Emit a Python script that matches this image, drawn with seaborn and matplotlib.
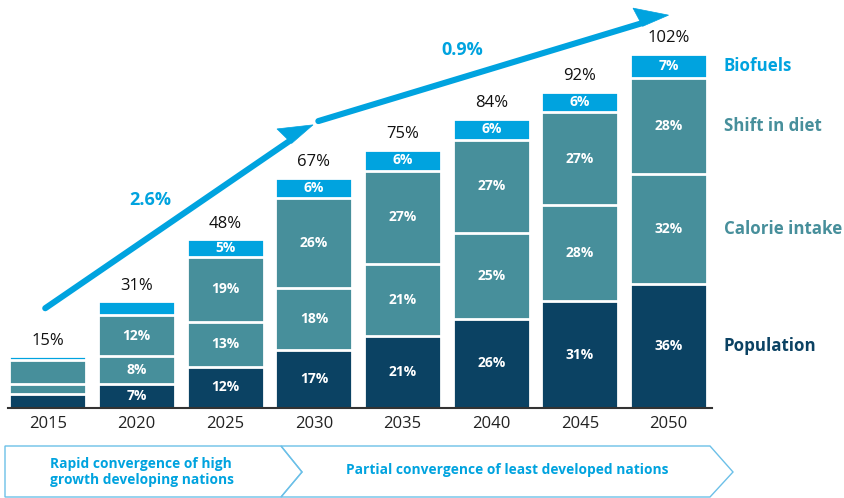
import matplotlib.pyplot as plt
import seaborn as sns
import numpy as np
import pandas as pd
from matplotlib.patches import Polygon

# data (% growth vs 2015 by driver)
years = ['2015', '2020', '2025', '2030', '2035', '2040', '2045', '2050']
population = [4, 7, 12, 17, 21, 26, 31, 36]
calorie_intake = [3, 8, 13, 18, 21, 25, 28, 32]
shift_in_diet = [7, 12, 19, 26, 27, 27, 27, 28]
biofuels = [1, 4, 5, 6, 6, 6, 6, 7]
totals = [15, 31, 48, 67, 75, 84, 92, 102]

series_names = ['Population', 'Calorie intake', 'Shift in diet', 'Biofuels']
series_vals = [population, calorie_intake, shift_in_diet, biofuels]
series_cols = ['#0b4263', '#478f9b', '#478f9b', '#00a3df']
label_cols = ['#0b4263', '#478f9b', '#478f9b', '#00a3df']

phase_labels = ['Rapid convergence of high\ngrowth developing nations',
                'Partial convergence of least developed nations']
rate_labels = ['2.6%', '0.9%']

sns.set_style('white')
plt.rcParams['font.family'] = ['Open Sans', 'DejaVu Sans']

BLUE = '#00a3df'

fig = plt.figure(figsize=(8.44, 4.98), dpi=100)
ax = fig.add_axes([8 / 844, 1 - 408 / 498, 704 / 844, 408 / 498])
ax.set_facecolor('none')

df = pd.DataFrame({'year': years})
cum = np.zeros(len(years))
cums = []
for vals in series_vals:
    cum = cum + np.array(vals)
    cums.append(cum.copy())

# stacked bars: draw cumulative totals tallest first, then overlay
for k in range(len(series_vals) - 1, -1, -1):
    df['h'] = cums[k]
    sns.barplot(data=df, x='year', y='h', color=series_cols[k], saturation=1,
                width=0.87, edgecolor='white', linewidth=2, errorbar=None, ax=ax)

# segment labels
for k, vals in enumerate(series_vals):
    base = cums[k] - np.array(vals)
    for i, v in enumerate(vals):
        if i == 0 or v < 5:
            continue
        ax.text(i, base[i] + v / 2, f'{v}%', ha='center', va='center',
                color='white', fontsize=10, fontweight='bold')

# totals on top
for i, t in enumerate(totals):
    ax.text(i, cums[-1][i] + 2.2, f'{t}%', ha='center', va='bottom',
            fontsize=12, color='#111111')

# series names next to the last bar
last = len(years) - 1
for k, name in enumerate(series_names):
    v = series_vals[k][last]
    ax.text(7.62, cums[k][last] - v / 2, name, ha='left', va='center',
            fontsize=12.2, fontweight='bold', color=label_cols[k], clip_on=False)

ax.set_xlim(-0.45, 7.49)
ax.set_ylim(0, 118.6)
ax.set_xlabel('')
ax.set_ylabel('')
ax.set_yticks([])
ax.tick_params(axis='x', length=0, pad=6, labelsize=12, labelcolor='#222222')
for s in ['top', 'right', 'left']:
    ax.spines[s].set_visible(False)
ax.spines['bottom'].set_color('#333333')
ax.spines['bottom'].set_linewidth(1.5)

ax.text(1.15, 60.5, rate_labels[0], ha='center', va='center', fontsize=13,
        fontweight='bold', color=BLUE)
ax.text(4.67, 104, rate_labels[1], ha='center', va='center', fontsize=13,
        fontweight='bold', color=BLUE)

# overlay in pixel coordinates for arrows and the bottom band
band = fig.add_axes([0, 0, 1, 1])
band.set_xlim(0, 844)
band.set_ylim(498, 0)
band.axis('off')
band.patch.set_alpha(0)


def to_px(x, y):
    px, py = ax.transData.transform((x, y))
    return np.array([px, 498 - py])


def half_arrow(tail, tip, L=32, W=17):
    t0, t1 = to_px(*tail), to_px(*tip)
    u = (t1 - t0) / np.hypot(*(t1 - t0))
    n = np.array([u[1], -u[0]])
    end = t1 - 28 * u
    band.plot([t0[0], end[0]], [t0[1], end[1]], color=BLUE, lw=4.4,
              solid_capstyle='round')
    head = [t1, t1 - L * u + W * n, t1 - 28 * u - 3.2 * n]
    band.add_patch(Polygon(head, closed=True, fc=BLUE, ec=BLUE, lw=0.5))


# growth-rate arrows (one-sided heads)
half_arrow((-0.03, 29), (2.99, 82.3))
half_arrow((3.05, 83.4), (7.0, 114.2))

edge = '#6cc0e8'
band.add_patch(Polygon([(5, 446), (281, 446), (302, 472), (281, 497), (5, 497)],
                       closed=True, fill=False, ec=edge, lw=1))
band.add_patch(Polygon([(281, 446), (710, 446), (733, 472), (710, 497), (281, 497),
                        (302, 472)], closed=True, fill=False, ec=edge, lw=1))
band.text(50, 472, phase_labels[0], ha='left', va='center', fontsize=9.9,
          fontweight='bold', color=BLUE, linespacing=1.1)
band.text(346, 470, phase_labels[1], ha='left', va='center', fontsize=9.9,
          fontweight='bold', color=BLUE)

fig.savefig('out.png', dpi=100)
